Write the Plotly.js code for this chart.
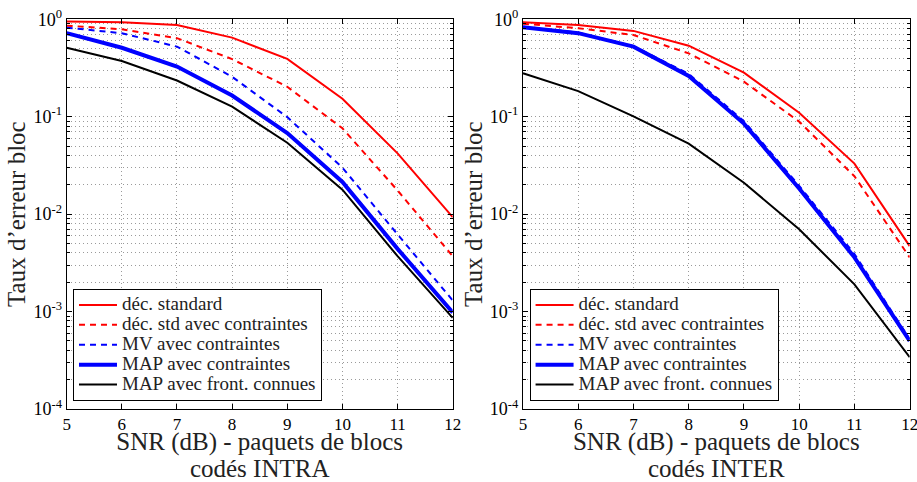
<!DOCTYPE html>
<html>
<head>
<meta charset="utf-8">
<script src="https://cdn.plot.ly/plotly-3.0.1.min.js"></script>
<style>html,body{margin:0;padding:0;background:#fff;}#chart{width:917px;height:482px;}</style>
</head>
<body>
<div id="chart"></div>
<script>
// ---- data ----
const snr = [5, 6, 7, 8, 9, 10, 11, 12];
const seriesNames = ["déc. standard", "déc. std avec contraintes", "MV avec contraintes", "MAP avec contraintes", "MAP avec front. connues"];

// INTRA (left)
const intraStd      = [0.95, 0.93, 0.875, 0.648, 0.392, 0.153, 0.042, 0.0093];
const intraStdC     = [0.86, 0.79, 0.64, 0.39, 0.203, 0.076, 0.0175, 0.0037];
const intraMV       = [0.82, 0.72, 0.524, 0.257, 0.099, 0.030, 0.0062, 0.0013];
const intraMAP      = [0.72, 0.51, 0.327, 0.165, 0.068, 0.0214, 0.0044, 0.00098];
const intraMAPfront = [0.51, 0.373, 0.235, 0.127, 0.054, 0.0178, 0.0037, 0.00086];

// INTER (right)
const interStd      = [0.93, 0.875, 0.76, 0.536, 0.283, 0.110, 0.033, 0.0047];
const interStdC     = [0.90, 0.81, 0.69, 0.447, 0.229, 0.089, 0.0245, 0.0036];
const interMV       = [0.84, 0.73, 0.53, 0.275, 0.090, 0.0195, 0.0039, 0.00052];
const interMAP      = [0.83, 0.72, 0.524, 0.262, 0.085, 0.0183, 0.0036, 0.0005];
const interMAPfront = [0.279, 0.183, 0.101, 0.053, 0.021, 0.0070, 0.0019, 0.00034];

const yTickVals = [1e-4, 1e-3, 1e-2, 1e-1, 1];
const yTickText = ["10<sup>-4</sup>", "10<sup>-3</sup>", "10<sup>-2</sup>", "10<sup>-1</sup>", "10<sup>0</sup>"];
const xTickVals = [5, 6, 7, 8, 9, 10, 11, 12];
const xTitleLines = ["SNR (dB) - paquets de blocs", "codés INTRA", "codés INTER"];
const yTitle = "Taux d’erreur bloc";

// ---- styles ----
const styles = [
  {color: "#ff0000", width: 2, dash: "solid"},
  {color: "#ff0000", width: 2, dash: "6px,5px"},
  {color: "#0000ff", width: 2, dash: "6px,5px"},
  {color: "#0000ff", width: 4, dash: "solid"},
  {color: "#000000", width: 2, dash: "solid"}
];

const FONT = "Liberation Serif";
const GRID = "#9a9a9a";
const DOT = "1px,3px";
const big = (t, px) => '<span style="font-size:' + px + 'px">' + t + '</span>';

function makeTraces(sets, xa, ya, leg) {
  return sets.map((ys, i) => ({
    x: snr, y: ys, type: "scatter", mode: "lines",
    name: big(seriesNames[i], 19),
    xaxis: xa, yaxis: ya, legend: leg,
    line: {color: styles[i].color, width: styles[i].width, dash: styles[i].dash},
    hoverinfo: "skip"
  }));
}

const traces = [
  ...makeTraces([intraStd, intraStdC, intraMV, intraMAP, intraMAPfront], "x", "y", "legend"),
  ...makeTraces([interStd, interStdC, interMV, interMAP, interMAPfront], "x2", "y2", "legend2")
];

function xAxis(domain, anchor, title) {
  return {
    domain: domain, anchor: anchor, range: [5, 12],
    tickvals: xTickVals, ticks: "inside", ticklen: 5, tickcolor: "#000",
    showline: true, linecolor: "#000", linewidth: 1, mirror: "ticks",
    showgrid: true, gridcolor: GRID, griddash: DOT, gridwidth: 1,
    zeroline: false, ticklabeloverflow: "allow",
    tickfont: {family: FONT, size: 17, color: "#000"},
    title: {text: title, font: {family: FONT, size: 21, color: "#222"}, standoff: 8}
  };
}
function yAxis(domain, anchor) {
  return {
    domain: domain, anchor: anchor, type: "log", range: [-4, 0],
    tickvals: yTickVals, ticktext: yTickText, ticks: "inside", ticklen: 5, tickcolor: "#000",
    showline: true, linecolor: "#000", linewidth: 1, mirror: "ticks",
    showgrid: true, gridcolor: GRID, griddash: DOT, gridwidth: 1,
    zeroline: false,
    minor: {dtick: "D1", showgrid: true, gridcolor: GRID, griddash: DOT, gridwidth: 1, ticks: "inside", ticklen: 3, tickcolor: "#000"},
    tickfont: {family: FONT, size: 18, color: "#000"},
    title: {text: yTitle, font: {family: FONT, size: 25, color: "#222"}, standoff: 0}
  };
}

const legendCommon = {
  xref: "paper", yref: "paper", xanchor: "left", yanchor: "bottom",
  bgcolor: "#ffffff", bordercolor: "#000", borderwidth: 1,
  font: {family: FONT, size: 13, color: "#222"},
  itemwidth: 38,
  tracegroupgap: 0
};

const yDom = [0.1515, 0.96];
const layout = {
  width: 917, height: 482,
  margin: {l: 0, r: 0, t: 0, b: 0},
  paper_bgcolor: "#fff", plot_bgcolor: "#fff",
  showlegend: true,
  font: {family: FONT},
  xaxis: xAxis([0.0727, 0.4937], "y", big(xTitleLines[0], 25) + "<br>" + big(xTitleLines[1], 25)),
  yaxis: yAxis(yDom, "x"),
  xaxis2: xAxis([0.5703, 0.992], "y2", big(xTitleLines[0], 25) + "<br>" + big(xTitleLines[2], 25)),
  yaxis2: yAxis(yDom, "x2"),
  legend: Object.assign({}, legendCommon, {x: 0.0796, y: 0.168}),
  legend2: Object.assign({}, legendCommon, {x: 0.5775, y: 0.168})
};

Plotly.newPlot("chart", traces, layout, {staticPlot: true, displayModeBar: false});
</script>
</body>
</html>
